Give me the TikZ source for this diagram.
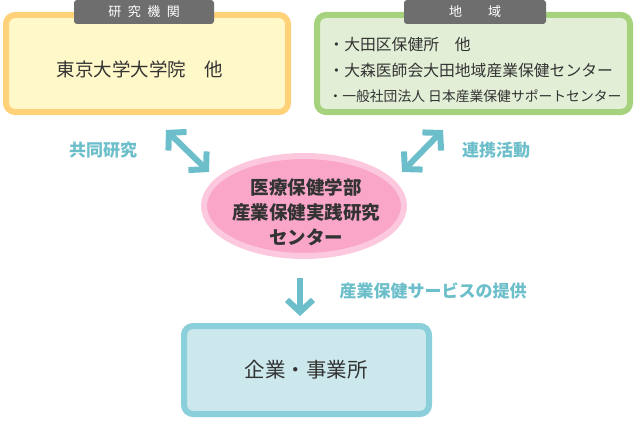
\documentclass[tikz,border=0pt]{standalone}
\usepackage{fontspec}
\newfontfamily\cjk{Noto Sans CJK JP}
\usetikzlibrary{arrows.meta,shapes.geometric}
\definecolor{obord}{HTML}{FFD27A}\definecolor{ofill}{HTML}{FFF8C8}
\definecolor{gbord}{HTML}{A6D27E}\definecolor{gfill}{HTML}{E2EFD6}
\definecolor{pbord}{HTML}{FCC8DE}\definecolor{pfill}{HTML}{F9A6C9}
\definecolor{bbord}{HTML}{8ACFD9}\definecolor{bfill}{HTML}{CCE8EC}
\definecolor{teal}{HTML}{6CBFCA}\definecolor{tab}{HTML}{6E6E6E}
\definecolor{txt}{HTML}{333333}
\begin{document}
\begin{tikzpicture}[x=1pt,y=-1pt,font=\cjk,
 box/.style={rounded corners=9pt,line width=6pt},
 tabs/.style={fill=tab,rounded corners=3pt,text=white,font=\cjk\fontsize{13}{14}\selectfont},
 arr/.style={teal,line width=6pt,{Straight Barb[length=12pt,width=26pt,line width=6pt]}-{Straight Barb[length=12pt,width=26pt,line width=6pt]}},
 lab/.style={text=teal,font=\cjk\bfseries\fontsize{17}{19}\selectfont}]
\useasboundingbox (0,0) rectangle (636,420);
\draw[box,draw=obord,fill=ofill] (6,15) rectangle (288,112);
\draw[box,draw=gbord,fill=gfill] (317,15) rectangle (630,112);
\draw[box,draw=bbord,fill=bfill] (184,326) rectangle (429,414);
\node[tabs,minimum width=140pt,minimum height=24pt] (t1) at (144,12) {研\enspace 究\enspace 機\enspace 関};
\node[tabs,minimum width=142pt,minimum height=24pt] (t2) at (475,12) {地\qquad 域};
\node[text=txt,font=\cjk\fontsize{18.5}{20}\selectfont] (uni) at (140,69) {東京大学大学院\quad 他};
\node[text=txt,font=\cjk\fontsize{15.8}{17}\selectfont,anchor=west] (r1) at (325,45) {・大田区保健所\quad 他};
\node[text=txt,font=\cjk\fontsize{15.8}{17}\selectfont,anchor=west] (r2) at (325,71) {・大森医師会大田地域産業保健センター};
\node[text=txt,font=\cjk\fontsize{13.8}{16}\selectfont,anchor=west] (r3) at (325,96) {・一般社団法人 日本産業保健サポートセンター};
\node[ellipse,draw=pbord,fill=pfill,line width=6pt,minimum width=200pt,minimum height=100pt] (c) at (304,206) {};
\node[text=txt,font=\cjk\bfseries\fontsize{18.5}{25}\selectfont,align=center] (ct) at (306,212) {医療保健学部\\産業保健実践研究\\センター};
\node[text=txt,font=\cjk\fontsize{20.5}{22}\selectfont] (co) at (306,370) {企業・事業所};
\coordinate (a1) at (166,130); \coordinate (a2) at (209,172);
\coordinate (b1) at (443,130); \coordinate (b2) at (402,172);
\coordinate (d1) at (300,278); \coordinate (d2) at (300,316);
\draw[arr] (a1) -- (a2);
\draw[arr] (b1) -- (b2);
\draw[teal,line width=6pt,-{Straight Barb[length=12pt,width=26pt,line width=6pt]}] (d1) -- (d2);
\node[lab] (l1) at (103,150) {共同研究};
\node[lab] (l2) at (496,150) {連携活動};
\node[lab] (l3) at (433,291) {産業保健サービスの提供};
\end{tikzpicture}
\end{document}
